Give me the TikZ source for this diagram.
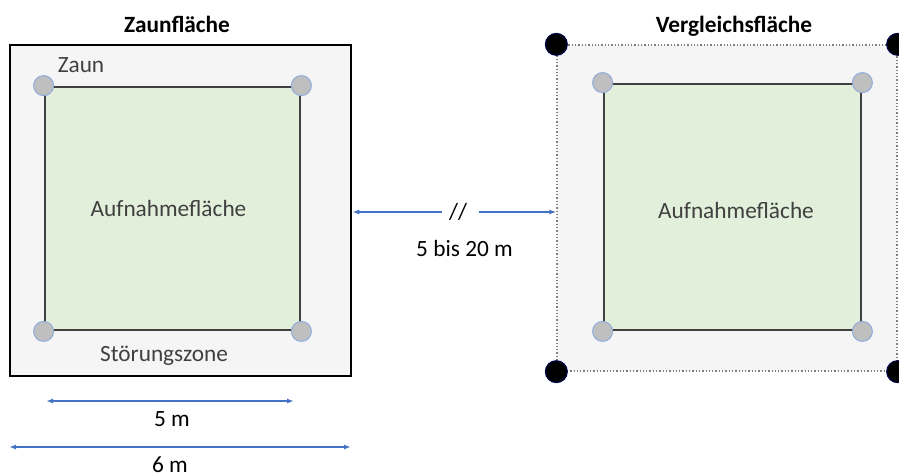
\documentclass[tikz,border=0pt]{standalone}
\usepackage{fontspec}
\setmainfont{Carlito}
\usetikzlibrary{arrows.meta}
\definecolor{zone}{HTML}{F5F5F5}
\definecolor{plot}{HTML}{E2EFDA}
\definecolor{edge}{HTML}{404040}
\definecolor{post}{HTML}{BFBFBF}
\definecolor{postedge}{HTML}{8FAADC}
\definecolor{dimblue}{HTML}{4472C4}
\definecolor{dotgray}{HTML}{7F7F7F}
\begin{document}
\begin{tikzpicture}[x=1pt,y=-1pt,
  lbl/.style={font=\fontsize{23.3}{27}\selectfont, inner sep=0pt, anchor=base},
  title/.style={lbl, font=\fontsize{23.3}{27}\selectfont\bfseries},
  zonebox/.style={rectangle, fill=zone, inner sep=0pt},
  plotbox/.style={rectangle, draw=edge, line width=2.8pt, fill=plot, inner sep=0pt},
  postc/.style={circle, fill=post, draw=postedge, line width=1pt, minimum size=20pt, inner sep=0pt},
  marker/.style={circle, fill=black, draw=black!70!blue, line width=1pt, minimum size=22pt, inner sep=0pt},
  dimarrow/.style={draw=dimblue, line width=1.4pt, {Latex[length=7pt,width=5pt]}-{Latex[length=7pt,width=5pt]}},
  halfarrow/.style={draw=dimblue, line width=1.4pt},
]
\useasboundingbox (0,0) rectangle (899,472);
\clip (0,0) rectangle (899,472);

% left: Zaunfläche
\node[zonebox, draw=black, line width=2.5pt, minimum width=341pt, minimum height=331pt] (zbox) at (180.5,210.5) {};
\node[plotbox, minimum width=255pt, minimum height=243pt] (zplot) at (172.5,208.5) {};
\foreach \c/\n in {north west/znw, north east/zne, south west/zsw, south east/zse}
  \node[postc] (\n) at (zplot.\c) {};
\node[title] (ztitle) at (177,32) {Zaunfläche};
\node[lbl, text=edge] (zaun) at (81,72) {Zaun};
\node[lbl, text=edge] (zauf) at (168.5,216) {Aufnahmefläche};
\node[lbl, text=edge] (zstoer) at (164,361) {Störungszone};

% dimensions below
\coordinate (d5a) at (46,401);
\coordinate (d5b) at (294,401);
\draw[dimarrow] (d5a) -- (d5b);
\node[lbl] (d5) at (172,426) {5 m};
\coordinate (d6a) at (9,447);
\coordinate (d6b) at (351,447);
\draw[dimarrow] (d6a) -- (d6b);
\node[lbl] (d6) at (170,472) {6 m};

% right: Vergleichsfläche
\node[zonebox, draw=dotgray, line width=1.3pt, dotted, minimum width=340pt, minimum height=326pt] (vbox) at (727,208) {};
\node[plotbox, minimum width=257pt, minimum height=246pt] (vplot) at (732.5,207) {};
\foreach \c/\n in {north west/vnw, north east/vne, south west/vsw, south east/vse}
  \node[postc] (\n) at (vplot.\c) {};
\foreach \c/\n in {north west/mnw, north east/mne, south west/msw, south east/mse}
  \node[marker] (\n) at (vbox.\c) {};
\node[title] (vtitle) at (734,32) {Vergleichsfläche};
\node[lbl, text=edge] (vauf) at (736,218) {Aufnahmefläche};

% distance between plots
\node[lbl] (brk) at (458,219) {//};
\coordinate (la) at (zbox.east |- 0,212);
\coordinate (lb) at (442,212);
\coordinate (ra) at (479,212);
\coordinate (rb) at (vbox.west |- 0,212);
\draw[halfarrow, {Latex[length=7pt,width=5pt]}-] (la) -- (lb);
\draw[halfarrow, -{Latex[length=7pt,width=5pt]}] (ra) -- (rb);
\node[lbl] (dist) at (464.5,256) {5 bis 20 m};
\end{tikzpicture}
\end{document}
